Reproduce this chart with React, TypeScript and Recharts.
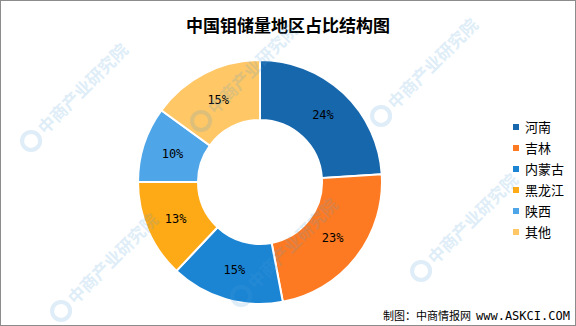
import React from "react";
import { Cell, Legend, Pie, PieChart } from "recharts";

const regions = ["河南", "吉林", "内蒙古", "黑龙江", "陕西", "其他"];
const shares = [24, 23, 15, 13, 10, 15];
const sliceColors = ["#1767ad", "#fe7a22", "#1b85d4", "#fea916", "#4ea5e8", "#ffc766"];

const chartTitle = "中国钼储量地区占比结构图";
const footerLabel = "制图：中商情报网";
const footerSite = "www.ASKCI.COM";
const watermarkText = "中商产业研究院";

const pieData = regions.map((name, i) => ({ name, value: shares[i] }));

const RADIAN = Math.PI / 180;

function SliceLabel(props: any) {
  const { cx, cy, midAngle, innerRadius, outerRadius, value } = props;
  const r = (innerRadius + outerRadius) / 2;
  const x = cx + r * Math.cos(-midAngle * RADIAN);
  const y = cy + r * Math.sin(-midAngle * RADIAN);
  return (
    <text
      x={x}
      y={y}
      fill="#000"
      fontSize={12}
      fontFamily="'DejaVu Sans Mono', monospace"
      textAnchor="middle"
      dominantBaseline="central"
    >
      {`${value}%`}
    </text>
  );
}

function LegendList() {
  return (
    <div>
      {regions.map((name, i) => (
        <div
          key={name}
          style={{ display: "flex", alignItems: "center", height: 21 }}
        >
          <span
            style={{
              width: 6,
              height: 6,
              background: sliceColors[i],
              marginRight: 6,
            }}
          />
          <span style={{ fontSize: 13, color: "#000" }}>{name}</span>
        </div>
      ))}
    </div>
  );
}

// faint diagonal watermarks, kept inside the frame
const watermarkSpots = [
  [40, 130], [210, 110], [390, 105],
  [70, 300], [250, 285], [430, 260],
];

export default function App() {
  return (
    <div
      style={{
        position: "relative",
        width: 576,
        height: 326,
        background: "#fff",
        fontFamily: "'Noto Sans CJK SC', sans-serif",
        boxSizing: "border-box",
        border: "1px solid #8c8c8c",
        overflow: "hidden",
      }}
    >
      <style>{`body{margin:0}`}</style>
      <div
        style={{
          position: "absolute",
          top: 11,
          left: 0,
          width: 574,
          textAlign: "center",
          fontSize: 17,
          fontWeight: "bold",
          color: "#000",
        }}
      >
        {chartTitle}
      </div>
      <PieChart
        width={574}
        height={324}
        margin={{ top: 0, right: 0, bottom: 0, left: 0 }}
      >
        <Pie
          data={pieData}
          dataKey="value"
          nameKey="name"
          cx={259}
          cy={181}
          innerRadius={62}
          outerRadius={122}
          startAngle={90}
          endAngle={-270}
          stroke="#fff"
          strokeWidth={2}
          label={SliceLabel}
          labelLine={false}
          isAnimationActive={false}
        >
          {pieData.map((d, i) => (
            <Cell key={d.name} fill={sliceColors[i]} />
          ))}
        </Pie>
        <Legend
          layout="vertical"
          align="right"
          verticalAlign="top"
          content={<LegendList />}
          wrapperStyle={{ position: "absolute", left: 512, top: 115, width: 60 }}
        />
      </PieChart>
      <div
        style={{
          position: "absolute",
          left: 382,
          top: 304,
          color: "#000",
          whiteSpace: "nowrap",
          lineHeight: "16px",
        }}
      >
        <span style={{ fontSize: 11 }}>{footerLabel}</span>
        <span
          style={{
            fontSize: 12,
            marginLeft: 5,
            fontFamily: "'DejaVu Sans Mono', monospace",
          }}
        >
          {footerSite}
        </span>
      </div>
      <svg
        width={574}
        height={324}
        style={{ position: "absolute", left: 0, top: 0, pointerEvents: "none" }}
      >
        {watermarkSpots.map(([x, y], i) => (
          <g key={i} transform={`translate(${x},${y}) rotate(-45)`} opacity={0.18}>
            <circle cx={-14} cy={0} r={9} fill="none" stroke="#4f9fd8" strokeWidth={4} />
            <text x={0} y={6} fontSize={17} fontWeight="bold" fill="#4f9fd8">
              {watermarkText}
            </text>
          </g>
        ))}
      </svg>
    </div>
  );
}
